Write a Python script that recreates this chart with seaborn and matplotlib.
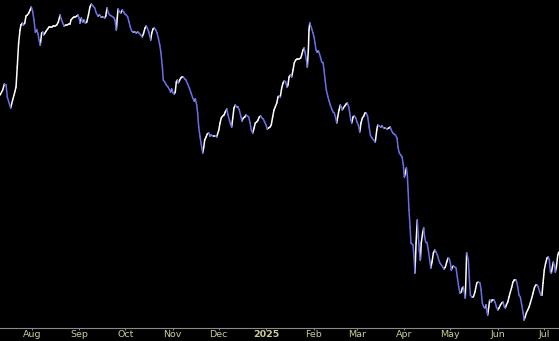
import numpy as np
import pandas as pd
import matplotlib
matplotlib.use("Agg")
import matplotlib.pyplot as plt
import seaborn as sns

# ---- data (value units arbitrary) ----
start_date = "2024-07-11"
day_offsets = [
    0.4, 2.1, 3.2, 4.3, 5.1, 7.3, 8.6, 10.0, 10.8, 11.6, 12.5, 13.4, 14.0, 14.9, 15.5, 16.5, 17.3, 18.2, 19.1, 20.0,
    20.8, 21.7, 22.5, 23.4, 24.3, 25.0, 25.8, 26.6, 27.5, 28.2, 28.8, 29.7, 30.5, 31.4, 32.3, 33.1, 34.3, 35.1, 36.2, 37.3,
    38.4, 39.5, 40.3, 41.2, 42.1, 43.2, 44.2, 45.1, 46.0, 46.6, 47.7, 48.6, 49.4, 50.4, 51.2, 51.9, 52.5, 53.4, 54.3, 55.1,
    56.0, 56.9, 58.0, 59.0, 59.9, 61.0, 62.1, 63.1, 64.2, 65.3, 66.4, 67.5, 68.6, 69.3, 70.1, 71.0, 71.9, 73.0, 74.0, 74.7,
    75.3, 76.2, 76.8, 77.3, 78.4, 79.2, 80.1, 81.0, 81.8, 82.7, 83.6, 84.5, 85.3, 86.2, 87.1, 88.2, 89.2, 90.1, 91.0, 92.1,
    93.1, 94.0, 94.9, 95.7, 96.4, 97.3, 98.0, 98.6, 99.3, 100.1, 101.0, 101.9, 102.7, 103.6, 104.5, 105.3, 106.2, 106.8, 107.7, 108.8,
    109.9, 111.0, 111.6, 112.3, 113.1, 114.0, 114.6, 115.3, 116.0, 116.6, 117.5, 118.2, 119.0, 119.9, 120.8, 121.6, 122.7, 123.8, 124.9, 126.0,
    127.0, 127.7, 128.6, 129.2, 129.9, 130.8, 131.6, 132.5, 133.2, 133.8, 134.7, 135.5, 136.4, 137.3, 138.1, 139.0, 139.9, 140.7, 141.6, 143.0,
    143.8, 144.6, 145.5, 146.4, 147.2, 148.2, 149.0, 149.9, 150.8, 151.4, 152.1, 152.9, 153.8, 154.7, 155.5, 156.4, 157.3, 158.1, 159.0, 159.9,
    160.7, 161.6, 162.5, 163.4, 164.2, 165.1, 166.0, 166.8, 167.7, 168.6, 169.4, 170.3, 171.2, 172.0, 172.9, 173.8, 174.6, 175.5, 176.4, 177.2,
    178.1, 179.0, 179.8, 180.8, 181.6, 182.3, 183.1, 184.0, 184.9, 185.7, 186.6, 187.5, 188.1, 188.8, 189.6, 190.5, 191.4, 192.2, 193.1, 194.2,
    195.3, 196.4, 197.0, 197.9, 198.6, 199.2, 200.1, 200.7, 201.4, 201.8, 202.3, 202.9, 203.6, 204.4, 205.1, 205.7, 206.4, 207.0, 207.9, 208.5,
    209.4, 210.1, 211.0, 211.6, 212.3, 213.1, 214.0, 214.9, 215.7, 216.6, 217.5, 218.3, 219.2, 219.9, 220.5, 221.4, 222.2, 222.9, 223.5, 224.2,
    225.1, 226.0, 226.8, 227.7, 228.4, 229.0, 229.7, 230.5, 231.4, 232.3, 233.1, 234.0, 234.9, 235.7, 236.6, 237.5, 238.3, 239.2, 240.1, 241.0,
    241.8, 242.9, 244.0, 245.0, 246.0, 246.6, 247.6, 248.6, 249.4, 250.5, 251.6, 252.7, 253.8, 254.8, 255.5, 256.4, 257.3, 258.1, 259.2, 259.8,
    260.7, 261.6, 262.5, 263.3, 264.0, 264.6, 265.3, 265.9, 266.4, 267.0, 267.7, 268.3, 269.0, 269.6, 270.3, 270.9, 271.6, 272.4, 273.1, 273.7,
    274.4, 275.0, 275.9, 276.6, 277.2, 277.9, 278.8, 279.6, 280.5, 281.2, 282.0, 282.9, 283.8, 284.6, 285.5, 286.4, 287.2, 288.1, 289.0, 289.8,
    290.7, 291.6, 292.4, 293.3, 294.0, 294.6, 295.3, 295.9, 296.8, 297.7, 298.5, 299.4, 300.3, 301.1, 301.8, 302.4, 303.1, 303.7, 304.6, 305.7,
    306.3, 307.0, 307.9, 309.0, 310.0, 311.2, 312.2, 313.3, 314.0, 314.8, 315.7, 316.6, 317.2, 317.9, 318.3, 319.0, 319.6, 320.5, 321.3, 322.2,
    323.1, 324.0, 324.9, 325.7, 326.6, 327.5, 328.3, 329.2, 329.8, 330.5, 331.4, 332.2, 333.1, 334.0, 334.8, 335.7, 336.6, 337.2, 337.9, 338.7,
    339.6, 340.5, 341.4, 342.0, 342.7, 343.5, 344.4, 345.3, 346.1, 347.0, 347.9, 348.7, 349.6, 350.5, 351.3, 352.2, 353.1, 353.7, 354.4, 355.2,
    356.1, 357.0, 357.8, 358.5, 359.2, 359.8, 360.5, 361.1, 361.8, 362.4, 363.1, 364.0, 364.7,
]
values = [
    233, 238, 244, 243, 231, 220, 228, 236, 241, 261, 285, 298, 303, 305, 303, 305, 312, 313, 315, 318,
    321, 316, 308, 296, 298, 295, 288, 283, 295, 296, 293, 295, 297, 299, 301, 301, 301, 302, 302, 303,
    306, 313, 309, 305, 302, 303, 303, 304, 304, 308, 310, 311, 311, 312, 313, 310, 305, 310, 306, 308,
    305, 306, 313, 321, 324, 322, 320, 315, 312, 313, 311, 311, 310, 312, 320, 315, 313, 312, 311, 310,
    308, 298, 310, 319, 316, 315, 318, 316, 314, 313, 311, 306, 301, 297, 296, 296, 295, 296, 295, 293,
    291, 295, 300, 302, 300, 296, 292, 288, 295, 299, 300, 298, 295, 290, 283, 275, 261, 248, 246, 243,
    241, 238, 236, 239, 235, 234, 236, 246, 248, 245, 248, 250, 251, 251, 249, 248, 244, 240, 235, 230,
    227, 229, 223, 215, 201, 191, 183, 175, 181, 188, 191, 194, 195, 192, 193, 192, 192, 192, 191, 198,
    205, 210, 212, 213, 216, 219, 213, 208, 203, 201, 210, 220, 223, 221, 221, 218, 212, 207, 210, 211,
    213, 212, 211, 205, 198, 195, 200, 205, 206, 208, 211, 212, 210, 209, 206, 203, 199, 200, 201, 203,
    211, 218, 221, 225, 231, 232, 231, 240, 245, 247, 246, 241, 243, 251, 253, 251, 258, 265, 268, 269,
    269, 270, 273, 278, 280, 276, 268, 261, 278, 298, 305, 302, 299, 295, 291, 285, 278, 276, 277, 275,
    270, 266, 265, 258, 248, 238, 232, 227, 223, 219, 216, 215, 210, 205, 211, 218, 223, 221, 218, 220,
    222, 224, 225, 221, 215, 208, 205, 211, 212, 210, 206, 203, 196, 205, 210, 212, 215, 215, 211, 201,
    193, 190, 188, 186, 198, 203, 202, 201, 202, 200, 200, 199, 200, 201, 198, 195, 194, 193, 190, 181,
    175, 173, 171, 163, 151, 155, 160, 153, 138, 118, 101, 85, 84, 83, 71, 55, 85, 108, 91, 78,
    68, 85, 95, 100, 91, 86, 85, 78, 68, 60, 66, 75, 78, 76, 73, 68, 65, 63, 61, 59,
    61, 66, 70, 69, 65, 58, 61, 62, 61, 60, 51, 41, 35, 36, 40, 41, 36, 30, 75, 68,
    51, 33, 31, 31, 36, 45, 46, 45, 38, 25, 21, 20, 23, 16, 13, 21, 28, 26, 28, 28,
    26, 21, 18, 20, 23, 25, 26, 21, 20, 23, 26, 31, 36, 41, 46, 48, 48, 46, 41, 33,
    31, 23, 15, 8, 11, 15, 18, 21, 25, 30, 35, 40, 43, 43, 41, 36, 33, 33, 45, 58,
    65, 70, 71, 68, 56, 55, 61, 66, 63, 56, 61, 73, 76,
]
tick_labels = ["Aug", "Sep", "Oct", "Nov", "Dec", "2025", "Feb", "Mar", "Apr", "May", "Jun", "Jul"]

UP_COLOR = "#ffffff"
DOWN_COLOR = "#6a6ee6"

# ---- build per-segment table (each segment coloured by direction) ----
t0 = pd.Timestamp(start_date)
dates = t0 + pd.to_timedelta(np.array(day_offsets), unit="D")
vals = np.array(values, dtype=float)
rows = []
for i in range(len(vals) - 1):
    d = "up" if vals[i + 1] >= vals[i] else "down"
    rows.append((i, dates[i], vals[i], d))
    rows.append((i, dates[i + 1], vals[i + 1], d))
seg = pd.DataFrame(rows, columns=["seg", "date", "value", "dir"])

sns.set_style("dark")
plt.rcParams["font.family"] = ["DejaVu Sans"]

fig = plt.figure(figsize=(5.59, 3.41), dpi=100, facecolor="black")
ax = fig.add_axes([0, 13 / 341, 1, 328 / 341])
ax.set_facecolor("black")

sns.lineplot(data=seg, x="date", y="value", hue="dir", units="seg", estimator=None,
             palette={"up": UP_COLOR, "down": DOWN_COLOR}, legend=False,
             linewidth=1.1, solid_capstyle="round", sort=False, ax=ax)

ax.set_xlim(t0 + pd.Timedelta(days=0.35), t0 + pd.Timedelta(days=364.8))
ax.set_ylim(0, 328)
ax.grid(False)

ticks = pd.date_range("2024-08-01", "2025-07-01", freq="MS")
ax.set_xticks(ticks)
ax.set_xticklabels(tick_labels)
ax.set_yticks([])
ax.set_xlabel("")
ax.set_ylabel("")
ax.tick_params(axis="x", colors="#8a8a8a", length=1.5, width=0.8, pad=0.2,
               labelsize=6.8, labelcolor="#cccc99", direction="out", bottom=True)
for lbl in ax.get_xticklabels():
    if lbl.get_text() == "2025":
        lbl.set_fontweight("bold")

for s in ["left", "right", "top"]:
    ax.spines[s].set_visible(False)
ax.spines["bottom"].set_visible(True)
ax.spines["bottom"].set_color("#8a8a8a")
ax.spines["bottom"].set_linewidth(0.8)

fig.savefig("out.png", dpi=100, facecolor="black")
